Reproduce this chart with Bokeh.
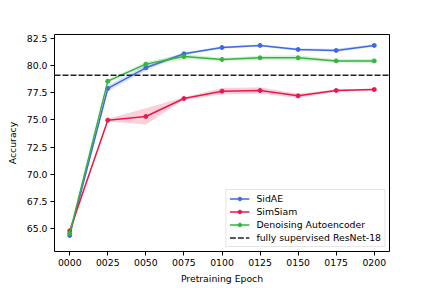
from bokeh.plotting import figure
from bokeh.models import Legend, LegendItem, FixedTicker
from bokeh.embed import file_html
from bokeh.resources import INLINE

epochs = ["0000", "0025", "0050", "0075", "0100", "0125", "0150", "0175", "0200"]
sidae = [64.36, 77.90, 79.80, 81.09, 81.67, 81.86, 81.49, 81.40, 81.86]
sidae_std = [0.25, 0.25, 0.25, 0.12, 0.12, 0.1, 0.12, 0.15, 0.12]
simsiam = [64.79, 74.98, 75.32, 76.97, 77.65, 77.71, 77.22, 77.71, 77.80]
simsiam_std = [0.2, 0.12, 0.75, 0.12, 0.3, 0.3, 0.2, 0.12, 0.1]
dae = [64.55, 78.57, 80.14, 80.84, 80.57, 80.72, 80.72, 80.44, 80.44]
dae_std = [0.2, 0.15, 0.2, 0.25, 0.15, 0.2, 0.25, 0.15, 0.2]
baseline = 79.12

yticks = [65.0, 67.5, 70.0, 72.5, 75.0, 77.5, 80.0, 82.5]

x = list(range(len(epochs)))

FS = "9.3px"

p = figure(frame_width=335, frame_height=217, output_backend="svg", toolbar_location=None,
           x_range=(-0.4, 8.4), y_range=(62.88, 82.87),
           min_border_left=54, min_border_right=26, min_border_top=34, min_border_bottom=28)
p.xgrid.visible = False
p.ygrid.visible = False
p.outline_line_color = "black"
p.outline_line_width = 1
p.outline_line_alpha = 1

p.xaxis.ticker = FixedTicker(ticks=x)
p.xaxis.major_label_overrides = {i: e for i, e in enumerate(epochs)}
p.yaxis.ticker = FixedTicker(ticks=yticks)
p.yaxis.major_label_overrides = {v: f"{v:.1f}" for v in yticks}
p.xaxis.axis_label = "Pretraining Epoch"
p.yaxis.axis_label = "Accuracy"
for ax in (p.xaxis, p.yaxis):
    ax.axis_label_text_font = "DejaVu Sans"
    ax.axis_label_text_font_size = FS
    ax.axis_label_text_font_style = "normal"
    ax.axis_label_text_color = "black"
    ax.major_label_text_font = "DejaVu Sans"
    ax.major_label_text_font_size = FS
    ax.major_label_text_color = "black"
    ax.minor_tick_line_color = None
    ax.major_tick_line_color = "black"
    ax.major_tick_in = 0
    ax.major_tick_out = 4
    ax.axis_line_color = None
    ax.major_label_standoff = 3
p.xaxis.axis_label_standoff = 4
p.yaxis.axis_label_standoff = 6

series = [
    ("SidAE", sidae, sidae_std, "#4169e1"),
    ("SimSiam", simsiam, simsiam_std, "#e8184a"),
    ("Denoising Autoencoder", dae, dae_std, "#35b53f"),
]
items = []
for name, ys, sd, c in series:
    lo = [a - b for a, b in zip(ys, sd)]
    hi = [a + b for a, b in zip(ys, sd)]
    p.varea(x=x, y1=lo, y2=hi, fill_color=c, fill_alpha=0.2)
    r1 = p.line(x, ys, line_color=c, line_width=1.5)
    r2 = p.scatter(x, ys, size=4, fill_color=c, line_color=c)
    items.append(LegendItem(label=name, renderers=[r1, r2]))

bl = p.line([-0.4, 8.4], [baseline, baseline], line_color="#222222", line_width=1.5, line_dash="6 2")
items.append(LegendItem(label="fully supervised ResNet-18", renderers=[bl]))

legend = Legend(items=items, location="bottom_right")
legend.label_text_font = "DejaVu Sans"
legend.label_text_font_size = FS
legend.label_text_color = "black"
legend.label_height = 9
legend.glyph_height = 9
legend.glyph_width = 20
legend.label_standoff = 7
legend.spacing = 2
legend.padding = 3
legend.margin = 4
legend.border_line_color = "#cccccc"
legend.border_line_width = 1
legend.background_fill_alpha = 0.8
p.add_layout(legend)

open("out.html", "w").write(file_html(p, INLINE))
